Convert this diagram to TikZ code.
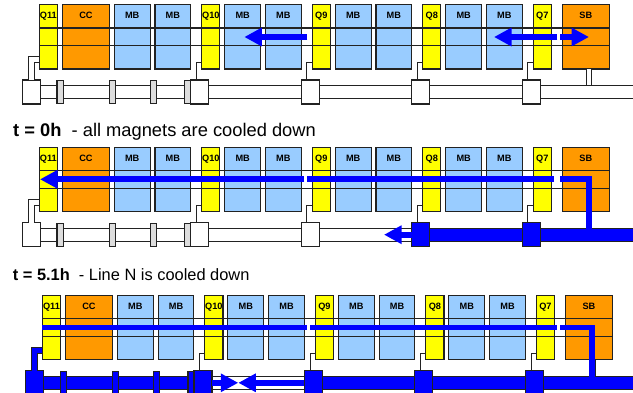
\documentclass[tikz,border=0pt]{standalone}
\usepackage{fontspec}
\setmainfont{Liberation Sans}
\usetikzlibrary{arrows.meta,positioning}
\definecolor{lineblue}{HTML}{0000FF}
\definecolor{dipoleblue}{HTML}{99CCFF}
\definecolor{cavorange}{HTML}{FF9900}
\definecolor{quadyellow}{HTML}{FFFF00}
\definecolor{spacergray}{HTML}{DDDDDD}
\definecolor{edge}{HTML}{222222}
\tikzset{
  magnet/.style={draw=edge,line width=1.1pt,inner xsep=0pt,inner ysep=0pt,outer sep=0pt,
    font=\bfseries\fontsize{9.2}{10}\selectfont,text height=14pt,text depth=50.5pt},
  quad/.style={magnet,fill=quadyellow,minimum width=18.2pt},
  dipole/.style={magnet,fill=dipoleblue,minimum width=35.8pt},
  cavity/.style={magnet,fill=cavorange,minimum width=47pt},
  valve/.style={draw=edge,line width=1.1pt,fill=#1,minimum width=18pt,minimum height=24pt,inner sep=0pt,outer sep=0pt},
  spacer/.style={draw=edge,line width=1.1pt,fill=#1,minimum width=6.2pt,minimum height=23pt,inner sep=0pt,outer sep=0pt},
  tube/.style={draw=edge,line width=1.2pt,double=#1,double distance=11.6pt},
  feed/.style={draw=edge,line width=1.1pt,double=#1,double distance=4.6pt},
  stub/.style={draw=edge,line width=1pt},
  rail/.style={draw=edge,line width=1.1pt},
  flow/.style={draw=lineblue,line width=5.7pt},
  flowhead/.tip={Triangle[length=17.5pt,width=17.5pt]},
  caption/.style={anchor=base west,inner sep=0pt}
}
\newcommand{\magnetrow}[3]{
  \node[quad,anchor=north west] (q11) at (39.3,4.5) {Q11};
  \node[cavity,right=4.9pt of q11] (cc) {CC};
  \node[dipole,right=4.9pt of cc] (mb1) {MB};
  \node[dipole,right=4.9pt of mb1] (mb2) {MB};
  \node[quad,right=10.9pt of mb2] (q10) {Q10};
  \node[dipole,right=4.9pt of q10] (mb3) {MB};
  \node[dipole,right=4.9pt of mb3] (mb4) {MB};
  \node[quad,right=10.9pt of mb4] (q9) {Q9};
  \node[dipole,right=4.9pt of q9] (mb5) {MB};
  \node[dipole,right=4.9pt of mb5] (mb6) {MB};
  \node[quad,right=10.9pt of mb6] (q8) {Q8};
  \node[dipole,right=4.9pt of q8] (mb7) {MB};
  \node[dipole,right=4.9pt of mb7] (mb8) {MB};
  \node[quad,right=10.9pt of mb8] (q7) {Q7};
  \node[cavity,right=10.9pt of q7] (sb) {SB};
  \draw[rail] ([yshift=-23.5pt]q11.north west) -- ([yshift=-23.5pt]sb.north east);
  \draw[rail] ([yshift=-41pt]q11.north west) -- ([yshift=-41pt]sb.north east);
  \coordinate (v11pos) at (31.3,92);
  \coordinate (v10pos) at (199.9,92);
  \coordinate (v9pos) at (310.3,92);
  \coordinate (v8pos) at (420.7,92);
  \coordinate (v7pos) at (531.3,92);
  \coordinate (tubeend) at (632.7,92);
  \draw[feed=white] ([xshift=3.2pt]sb.south) -- ++(0,17);
  \draw[tube=#1] (v11pos) -- (v10pos);
  \draw[tube=white] (v10pos) -- (v9pos);
  \draw[tube=#1] (v9pos) -- (v8pos);
  \draw[tube=#2] (v8pos) -- (v7pos);
  \draw[tube=#2] (v7pos) -- (tubeend);
  \node[spacer=#3] (s1) at (60.1,92) {};
  \node[spacer=#3] (s2) at (112.5,92) {};
  \node[spacer=#3] (s3) at (153.3,92) {};
  \node[spacer=#3] (s4) at (188,92) {};
  \node[valve=#1] (v11) at (v11pos) {};
  \node[valve=#1] (v10) at (v10pos) {};
  \node[valve=#1] (v9) at (v9pos) {};
  \node[valve=#2] (v8) at (v8pos) {};
  \node[valve=#2] (v7) at (v7pos) {};
  \draw[feed=#1] (v11.north) |- ([yshift=9.5pt]q11.south west);
  \draw[stub] ([xshift=5.6pt]v10.north west) |- ([yshift=6.5pt]q10.south west);
  \draw[stub] ([xshift=5.6pt]v9.north west) |- ([yshift=6.5pt]q9.south west);
  \draw[stub] ([xshift=5.6pt]v8.north west) |- ([yshift=6.5pt]q8.south west);
  \draw[stub] ([xshift=5.6pt]v7.north west) |- ([yshift=6.5pt]q7.south west);
}
\begin{document}
\begin{tikzpicture}[x=1pt,y=-1pt]
  \useasboundingbox (0,0) rectangle (633,392);
  \begin{scope}[name prefix=a-]
    \magnetrow{white}{white}{spacergray}
    \coordinate (flowA) at (307.3,37);
    \coordinate (flowB) at (244.3,37);
    \coordinate (flowC) at (557.3,37);
    \coordinate (flowD) at (494,37);
    \coordinate (flowE) at (560.3,37);
    \coordinate (flowF) at (589,37);
    \draw[flow,-flowhead] (flowA) -- (flowB);
    \draw[flow,-flowhead] (flowC) -- (flowD);
    \draw[flow,-flowhead] (flowE) -- (flowF);
  \end{scope}
  \node[caption,font=\fontsize{18.3}{20}\selectfont] (t0) at (13,136.7) {\textbf{t = 0h}\ \ - all magnets are cooled down};
  \begin{scope}[yshift=-142.7pt,name prefix=b-]
    \magnetrow{white}{lineblue}{spacergray}
    \coordinate (flowA) at (554,36.6);
    \coordinate (flowB) at (307.3,36.6);
    \coordinate (flowC) at (304.3,36.6);
    \coordinate (flowD) at (40,36.6);
    \coordinate (flowE) at (560.3,36.6);
    \coordinate (flowF) at (589,86);
    \coordinate (flowG) at (384,92);
    \draw[flow] (flowA) -- (flowB);
    \draw[flow,-flowhead] (flowC) -- (flowD);
    \draw[flow] (flowE) -| (flowF);
    \draw[flow,-flowhead] (v8.west) -- (flowG);
  \end{scope}
  \node[caption,font=\fontsize{16.4}{18}\selectfont] (t5) at (12.7,280) {\textbf{t = 5.1h}\ \ - Line N is cooled down};
  \begin{scope}[xshift=3.1pt,yshift=-290.8pt,name prefix=c-]
    \magnetrow{lineblue}{lineblue}{lineblue}
    \coordinate (flowA) at (554,36.8);
    \coordinate (flowB) at (307,36.8);
    \coordinate (flowC) at (304,36.8);
    \coordinate (flowD) at (39.3,36.8);
    \coordinate (flowE) at (557.3,36.8);
    \coordinate (flowF) at (589,86);
    \coordinate (flowG) at (235.2,92);
    \draw[flow] (flowA) -- (flowB);
    \draw[flow] (flowC) -- (flowD);
    \draw[flow] (flowE) -| (flowF);
    \draw[flow,-flowhead] (v10.east) -- (flowG);
    \draw[flow,-flowhead] (v9.west) -- (flowG);
  \end{scope}
\end{tikzpicture}
\end{document}
